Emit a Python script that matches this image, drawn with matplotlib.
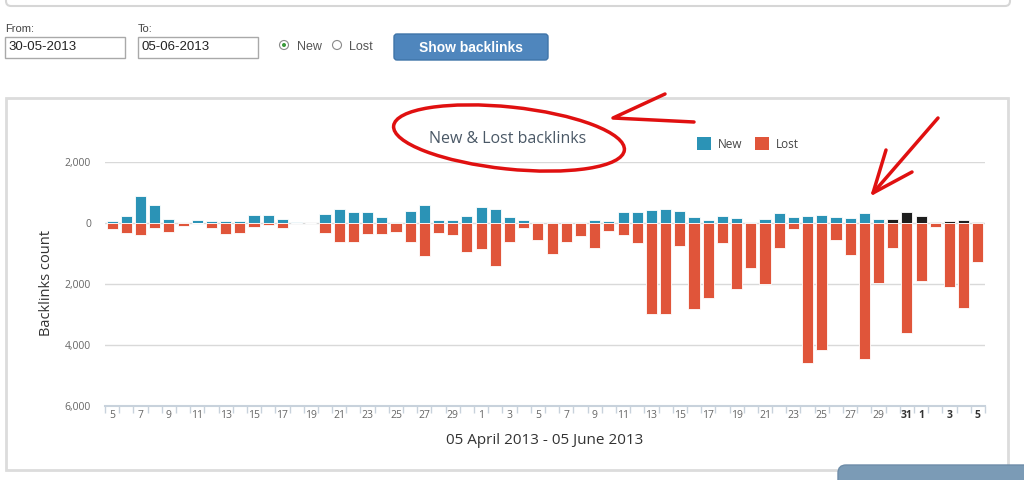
import matplotlib.pyplot as plt
import numpy as np
import pandas as pd
from matplotlib.patches import Rectangle, FancyBboxPatch, Ellipse, Circle

# ---- data ----
days = pd.date_range("2013-04-05", "2013-06-05", freq="D")
sel_from, sel_to = "2013-05-30", "2013-06-05"

new_links = [65, 220, 900, 590, 130, 0, 90, 50, 80, 50,
             250, 250, 130, 40, 0, 290, 455, 350, 355, 210,
             40, 385, 590, 110, 110, 240, 540, 450, 200, 110,
             40, 20, 20, 20, 107, 75, 375, 365, 440, 470,
             395, 190, 107, 235, 160, 40, 135, 315, 195, 240,
             270, 205, 175, 335, 140, 140, 370, 240, 45, 75,
             110, 45]
lost_links = [210, 330, 400, 175, 300, 90, 0, 165, 360, 330,
              130, 50, 165, 0, 0, 330, 638, 638, 360, 360,
              290, 635, 1075, 330, 405, 955, 845, 1425, 635, 165,
              550, 1030, 620, 430, 825, 270, 395, 650, 2985, 2985,
              760, 2815, 2450, 650, 2170, 1475, 1995, 805, 195, 4590,
              4150, 555, 1065, 4455, 1955, 835, 3600, 1915, 130, 2085,
              2800, 1280]
y_ticks = [2000, 0, -2000, -4000, -6000]

W, H = 1024, 480
BLUE = "#2b93b6"
RED = "#e0553a"
DARK = "#1e1e1e"


def px_axes(fig, x0, y0, x1, y1, **kw):
    return fig.add_axes([x0 / W, 1 - y1 / H, (x1 - x0) / W, (y1 - y0) / H], **kw)


fig = plt.figure(figsize=(W / 100, H / 100), dpi=100)
fig.patch.set_facecolor("white")

# background page elements
bg = px_axes(fig, 0, 0, W, H, zorder=0)
bg.set_xlim(0, W)
bg.set_ylim(H, 0)
bg.axis("off")

bg.add_patch(FancyBboxPatch((6, -20), 1004, 26, boxstyle="round,pad=0,rounding_size=5",
                            fc="white", ec="#d6d6d6", lw=1.5))
bg.text(5, 29, "From:", fontsize=8, color="#444", family="Liberation Sans", va="center")
bg.text(138, 29, "To:", fontsize=8, color="#444", family="Liberation Sans", va="center")
for x0, txt in [(5, "30-05-2013"), (138, "05-06-2013")]:
    bg.add_patch(Rectangle((x0, 37), 120, 21, fc="white", ec="#a9a9a9", lw=1))
    bg.text(x0 + 3, 47.5, txt, fontsize=9.5, color="#222", family="Liberation Sans", va="center")
bg.add_patch(Circle((284, 45), 4.5, fc="white", ec="#8a8a8a", lw=0.8))
bg.add_patch(Circle((284, 45), 2, fc="#3a9a3a", ec="none"))
bg.text(297, 47, "New", fontsize=9, color="#555", family="Liberation Sans", va="center")
bg.add_patch(Circle((337, 45), 4.5, fc="white", ec="#8a8a8a", lw=0.8))
bg.text(349, 47, "Lost", fontsize=9, color="#555", family="Liberation Sans", va="center")
bg.add_patch(FancyBboxPatch((394, 34), 154, 26, boxstyle="round,pad=0,rounding_size=3",
                            fc="#4f86bd", ec="#3f74a8", lw=1))
bg.text(471, 47.5, "Show backlinks", fontsize=10, color="white", weight="bold",
        family="Liberation Sans", ha="center", va="center")

bg.add_patch(Rectangle((6, 98), 1002, 372, fc="white", ec="#dcdcdc", lw=2))
bg.add_patch(FancyBboxPatch((838, 465), 200, 30, boxstyle="round,pad=0,rounding_size=8",
                            fc="#7b9bb6", ec="#6d8ca8", lw=1))

bg.text(508, 139, "New & Lost backlinks", fontsize=11.5, color="#4a5866",
        family="Open Sans", ha="center", va="center")
bg.add_patch(Rectangle((697, 137), 14, 13, fc=BLUE, ec="none"))
bg.text(718, 144, "New", fontsize=8.5, color="#444", family="Open Sans", va="center")
bg.add_patch(Rectangle((755, 137), 14, 13, fc=RED, ec="none"))
bg.text(776, 144, "Lost", fontsize=8.5, color="#444", family="Open Sans", va="center")
bg.text(47, 283, "Backlinks count", fontsize=10.5, color="#333", family="Open Sans",
        rotation=90, ha="center", va="center")
bg.text(545, 440, "05 April 2013 - 05 June 2013", fontsize=11, color="#333",
        family="Open Sans", ha="center", va="center")

# the chart itself
ax = px_axes(fig, 105, 162, 985, 406, zorder=1)
ax.patch.set_alpha(0)
x = np.arange(len(days))
in_sel = (days >= sel_from) & (days <= sel_to)
new_col = [DARK if s else BLUE for s in in_sel]
ax.bar(x, new_links, width=0.78, color=new_col, edgecolor="white", linewidth=0.6, zorder=3)
ax.bar(x, -np.array(lost_links), width=0.78, color=RED, edgecolor="white", linewidth=0.6, zorder=3)

ax.set_xlim(-0.5, len(days) - 0.5)
ax.set_ylim(-6000, 2000)
ax.set_yticks(y_ticks)
ax.set_yticklabels([f"{abs(v):,}" for v in y_ticks], fontsize=7.5, color="#666", family="Open Sans")
ax.grid(axis="y", color="#d9d9d9", lw=1, zorder=0)
ax.tick_params(axis="y", length=0, pad=10)

lab_idx = [i for i, d in enumerate(days) if d.day % 2 == 1]
ax.set_xticks(lab_idx)
ax.set_xticklabels([str(days[i].day) for i in lab_idx], fontsize=7.5, color="#666", family="Open Sans")
for i, t in zip(lab_idx, ax.get_xticklabels()):
    if in_sel[i] and days[i].day in (31, 1, 3, 5):
        t.set_fontweight("bold")
        t.set_color("#333")
ax.tick_params(axis="x", length=0, pad=3)
ax.set_xticks(np.arange(len(days) + 1) - 0.5, minor=True)
ax.tick_params(axis="x", which="minor", length=5, color="#c8d2dc", width=1)
for s in ["top", "right", "left"]:
    ax.spines[s].set_visible(False)
ax.spines["bottom"].set_color("#c8d2dc")
ax.spines["bottom"].set_linewidth(1.5)

# red hand-drawn marks on top
fg = px_axes(fig, 0, 0, W, H, zorder=5)
fg.set_xlim(0, W)
fg.set_ylim(H, 0)
fg.axis("off")
fg.patch.set_alpha(0)
fg.add_patch(Ellipse((509, 138), 232, 62, angle=6, fc="none", ec="#e01010", lw=2.5))
fg.plot([665, 613, 694], [94, 118, 122], color="#e01010", lw=2.5, solid_capstyle="round")
fg.plot([938, 873], [118, 193], color="#e01010", lw=2.5, solid_capstyle="round")
fg.plot([886, 873, 912], [150, 193, 172], color="#e01010", lw=2.5, solid_capstyle="round")

fig.savefig("out.png", dpi=100)
